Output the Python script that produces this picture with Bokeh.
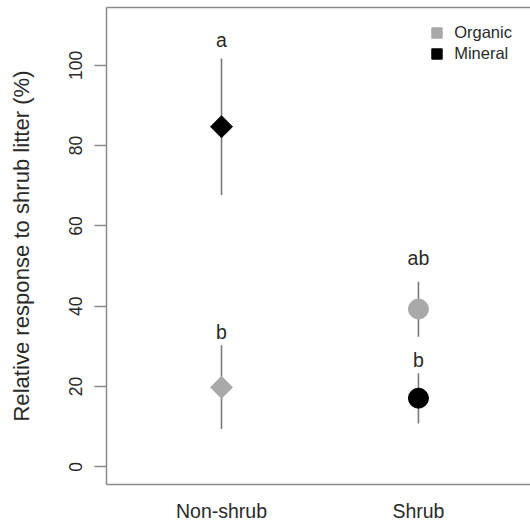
import math
from bokeh.plotting import figure
from bokeh.models import Range1d, FixedTicker, LinearAxis, Legend, LegendItem, ColumnDataSource
from bokeh.core.properties import value
from bokeh.embed import file_html
from bokeh.resources import INLINE

# ---- data ----
categories = ["Non-shrub", "Shrub"]
organic_mean = [19.8, 39.3]
organic_lower = [9.4, 32.4]
organic_upper = [30.3, 46.1]
organic_letters = ["b", "ab"]
organic_letter_y = [33.5, 52.0]
mineral_mean = [84.7, 17.1]
mineral_lower = [67.7, 10.8]
mineral_upper = [101.7, 23.3]
mineral_letters = ["a", "b"]
mineral_letter_y = [106.3, 26.6]
marker_shapes = ["diamond", "circle"]  # Non-shrub: diamond, Shrub: circle
y_ticks = [0, 20, 40, 60, 80, 100]
series_names = ["Organic", "Mineral"]

ORG = "#a9a9a9"
MIN = "#000000"
FRAME = "#8a8a8a"
ERR = "#7a7a7a"
TXT = "#2a2a2a"
FONT = "Liberation Sans"

xpos = [i + 1 for i in range(len(categories))]

p = figure(width=530, height=525, output_backend="svg", toolbar_location=None,
           x_range=Range1d(0.416, 2.569), y_range=Range1d(-4.4, 114.4),
           min_border_left=106, min_border_right=0, min_border_top=7,
           min_border_bottom=41, x_axis_type=None, y_axis_type=None)
p.grid.visible = False
p.outline_line_color = None
p.background_fill_color = "white"
p.border_fill_color = "white"

# y axis
yax = LinearAxis(ticker=FixedTicker(ticks=y_ticks))
yax.axis_line_color = FRAME
yax.axis_line_width = 1.5
yax.major_tick_line_color = FRAME
yax.major_tick_line_width = 1.5
yax.major_tick_out = 12
yax.major_tick_in = 0
yax.minor_tick_line_color = None
yax.major_label_orientation = "vertical"
yax.major_label_text_font = FONT
yax.major_label_text_font_size = "17.5px"
yax.major_label_text_color = TXT
yax.major_label_standoff = 12
yax.axis_label = "Relative response to shrub litter (%)"
yax.axis_label_text_font = FONT
yax.axis_label_text_font_size = "22.1px"
yax.axis_label_text_font_style = "normal"
yax.axis_label_text_color = TXT
yax.axis_label_standoff = 33
p.add_layout(yax, "left")

# x axis (category labels, no ticks)
xax = LinearAxis(ticker=FixedTicker(ticks=xpos))
xax.major_label_overrides = {x: c for x, c in zip(xpos, categories)}
xax.axis_line_color = FRAME
xax.axis_line_width = 1.5
xax.major_tick_line_color = None
xax.major_tick_out = 0
xax.major_tick_in = 0
xax.minor_tick_line_color = None
xax.major_label_text_font = FONT
xax.major_label_text_font_size = "19.5px"
xax.major_label_text_color = TXT
xax.major_label_standoff = 15
p.add_layout(xax, "below")

# top border line
tax = LinearAxis(ticker=FixedTicker(ticks=[]))
tax.axis_line_color = FRAME
tax.axis_line_width = 1.5
tax.major_tick_line_color = None
tax.minor_tick_line_color = None
tax.major_label_text_font_size = "0px"
p.add_layout(tax, "above")

# error bars
p.segment(x0=xpos, x1=xpos, y0=organic_lower, y1=organic_upper, line_color=ERR, line_width=1.6)
p.segment(x0=xpos, x1=xpos, y0=mineral_lower, y1=mineral_upper, line_color=ERR, line_width=1.6)

# markers
for i, shape in enumerate(marker_shapes):
    for means, col in ((organic_mean, ORG), (mineral_mean, MIN)):
        if shape == "diamond":
            p.scatter(x=[xpos[i]], y=[means[i]], marker="square", angle=math.pi / 4,
                      size=15.5, fill_color=col, line_color=col)
        else:
            p.scatter(x=[xpos[i]], y=[means[i]], marker="circle", size=20,
                      fill_color=col, line_color=col)

# significance letters
p.text(x=xpos, y=organic_letter_y, text=organic_letters, text_align="center",
       text_baseline="middle", text_font=value(FONT), text_font_size="19.5px", text_color=TXT)
p.text(x=xpos, y=mineral_letter_y, text=mineral_letters, text_align="center",
       text_baseline="middle", text_font=value(FONT), text_font_size="19.5px", text_color=TXT)

# legend (swatch-only renderers with no drawable data)
nan = float("nan")
r_org = p.quad(left=[nan], right=[nan], top=[nan], bottom=[nan], fill_color=ORG, line_color=ORG)
r_min = p.quad(left=[nan], right=[nan], top=[nan], bottom=[nan], fill_color=MIN, line_color=MIN)
legend = Legend(items=[LegendItem(label=series_names[0], renderers=[r_org], index=0),
                       LegendItem(label=series_names[1], renderers=[r_min], index=0)],
                location=(324.2, 421))
legend.border_line_color = None
legend.background_fill_alpha = 0
legend.glyph_width = 13
legend.glyph_height = 13
legend.label_standoff = 11
legend.label_text_font = FONT
legend.label_text_font_size = "16.5px"
legend.label_text_color = TXT
legend.label_height = 20
legend.spacing = 1
legend.padding = 0
legend.margin = 0
p.add_layout(legend, "center")

open("out.html", "w").write(file_html(p, INLINE))
